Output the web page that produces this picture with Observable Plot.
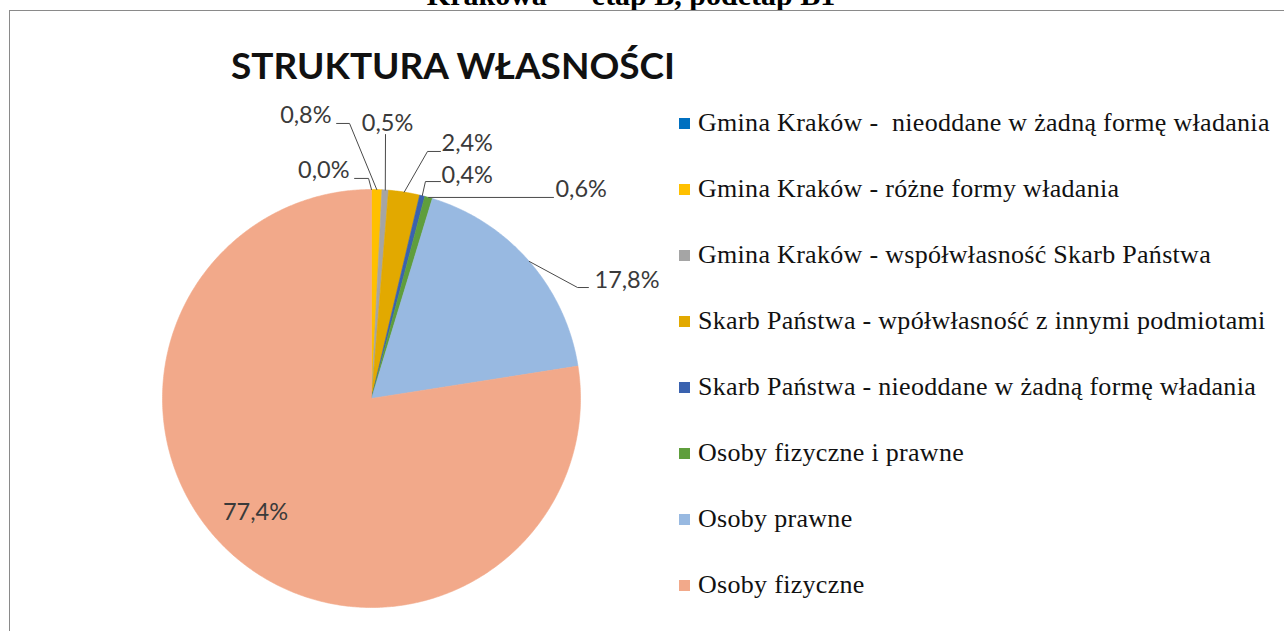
<!DOCTYPE html>
<html>
<head>
<meta charset="utf-8">
<script src="https://cdn.jsdelivr.net/npm/d3@7"></script>
<script src="https://cdn.jsdelivr.net/npm/@observablehq/plot@0.6"></script>
<style>
  html, body { margin: 0; padding: 0; background: #fff; }
  body { width: 1284px; height: 631px; overflow: hidden; position: relative; }
  #toptext { position: absolute; left: -11px; width: 1284px; text-align: center; top: -20px;
    font: bold 30px "Liberation Serif", serif; line-height: 30px; color: #000; white-space: pre; }
  #frame { position: absolute; left: 9px; top: 10px; width: 1400px; height: 800px;
    border: 1px solid #8a8a8a; box-sizing: border-box; }
  #chart { position: absolute; left: 0; top: 0; }
  #title { position: absolute; left: 231px; top: 46px; font: bold 37px Lato, sans-serif;
    line-height: 37px; color: #111; white-space: pre; }
  #legend { position: absolute; left: 679px; top: 90px; }
  .row { display: flex; align-items: center; height: 66px; }
  .sw { width: 11px; height: 11px; margin-right: 8px; flex: none; }
  .lab { font: 26px "Liberation Serif", serif; color: #111; white-space: pre; line-height: 26px;
    letter-spacing: 0.3px; }
</style>
</head>
<body>
<div id="toptext"></div>
<div id="frame"></div>
<div id="chart"></div>
<div id="title"></div>
<div id="legend"></div>
<script>
// ---- data ----
const pageHeading = "Krakowa — etap B, podetap B1";
const chartTitle = "STRUKTURA WŁASNOŚCI";
const categories = [
  "Gmina Kraków -  nieoddane w żadną formę władania",
  "Gmina Kraków - różne formy władania",
  "Gmina Kraków - współwłasność Skarb Państwa",
  "Skarb Państwa - wpółwłasność z innymi podmiotami",
  "Skarb Państwa - nieoddane w żadną formę władania",
  "Osoby fizyczne i prawne",
  "Osoby prawne",
  "Osoby fizyczne"
];
const shares = [0.0, 0.8, 0.5, 2.4, 0.4, 0.6, 17.8, 77.4];
const valueLabels = ["0,0%", "0,8%", "0,5%", "2,4%", "0,4%", "0,6%", "17,8%", "77,4%"];
const colors = ["#0070C0", "#FFC000", "#A5A5A5", "#E2A900", "#3A62AF", "#5F9E3C", "#98B9E1", "#F2A98A"];

// label placement (in pie-radius units, y up), leader path after the slice's edge point
const labelLayout = [
  {path: [[-0.014, 1.053], [-0.081, 1.053]], tx: -0.105, ty: 1.053, anchor: "end"},
  {path: [[-0.105, 1.316], [-0.167, 1.316]], tx: -0.191, ty: 1.316, anchor: "end"},
  {path: [[0.067, 1.263]], tx: 0.077, ty: 1.278, anchor: "middle"},
  {path: [[0.268, 1.182], [0.330, 1.182]], tx: 0.335, ty: 1.182, anchor: "start"},
  {path: [[0.258, 1.038], [0.330, 1.038]], tx: 0.335, ty: 1.033, anchor: "start"},
  {path: [[0.871, 0.962]], tx: 0.880, ty: 0.962, anchor: "start"},
  {path: [[0.986, 0.531], [1.038, 0.531]], tx: 1.067, ty: 0.531, anchor: "start"},
  {path: null, tx: -0.555, ty: -0.579, anchor: "middle"}
];

// ---- geometry from data ----
const arcs = d3.pie().sort(null).value(d => d)(shares);
const slices = arcs.map((a, i) => {
  const n = Math.max(2, Math.ceil((a.endAngle - a.startAngle) * 180 / Math.PI * 2));
  const pts = [{x: 0, y: 0}];
  for (let k = 0; k <= n; k++) {
    const t = a.startAngle + (a.endAngle - a.startAngle) * k / n;
    pts.push({x: Math.sin(t), y: Math.cos(t)});
  }
  pts.push({x: 0, y: 0});
  return {i, pts};
}).filter(s => shares[s.i] > 0);

const leaders = [];
const texts = [];
arcs.forEach((a, i) => {
  const L = labelLayout[i];
  const mid = (a.startAngle + a.endAngle) / 2;
  if (L.path) {
    const pts = [{x: Math.sin(mid), y: Math.cos(mid)}].concat(L.path.map(([x, y]) => ({x, y})));
    pts.forEach(p => leaders.push({...p, k: i}));
  }
  texts.push({x: L.tx, y: L.ty, text: valueLabels[i], anchor: L.anchor});
});

const marks = [];
slices.forEach(s => {
  marks.push(Plot.line(s.pts, {x: "x", y: "y", fill: colors[s.i], stroke: colors[s.i], strokeWidth: 0.6, curve: "linear"}));
});
marks.push(Plot.line(leaders, {x: "x", y: "y", z: "k", stroke: "#4a4a4a", strokeWidth: 1, curve: "linear"}));
["start", "middle", "end"].forEach(anc => {
  marks.push(Plot.text(texts.filter(t => t.anchor === anc), {
    x: "x", y: "y", text: "text", textAnchor: anc, lineAnchor: "bottom",
    fontSize: 23.5, fontFamily: "Lato", fill: "#3a3a3a"
  }));
});

const chart = Plot.plot({
  width: 1284, height: 631,
  margin: 0,
  style: {background: "transparent", overflow: "visible"},
  x: {domain: [-1, 1], range: [162, 580], axis: null},
  y: {domain: [-1, 1], range: [607, 189], axis: null},
  marks
});
document.getElementById("chart").appendChild(chart);

document.getElementById("toptext").textContent = pageHeading;
document.getElementById("title").textContent = chartTitle;
const leg = document.getElementById("legend");
categories.forEach((c, i) => {
  const row = document.createElement("div");
  row.className = "row";
  const sw = document.createElement("div");
  sw.className = "sw"; sw.style.background = colors[i];
  const lab = document.createElement("div");
  lab.className = "lab"; lab.textContent = c;
  row.appendChild(sw); row.appendChild(lab);
  leg.appendChild(row);
});
</script>
</body>
</html>
